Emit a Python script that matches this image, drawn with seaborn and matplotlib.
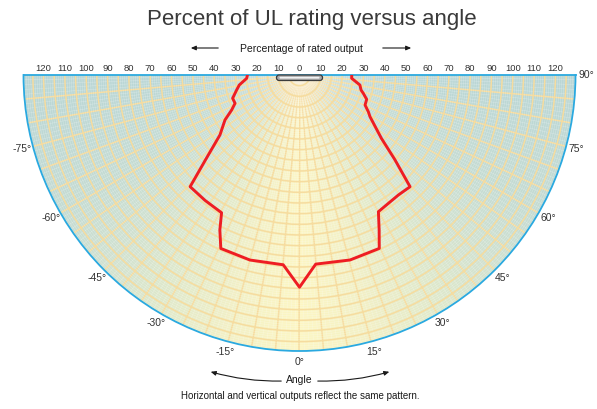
"""
Polar light distribution: percent of UL rating versus angle.
"""

import numpy as np
import matplotlib.pyplot as plt
import seaborn as sns
from matplotlib.colors import LinearSegmentedColormap
from matplotlib.patches import FancyBboxPatch, FancyArrowPatch
from matplotlib.transforms import IdentityTransform

# Data (angle in degrees, output in % of rating)
curve_deg = [-90, -86.4, -80.6, -76.6, -74.2, -70.8, -66.3, -62.7, -58.9, -53.0,
             -47.8, -44.4, -37.0, -29.5, -27.2, -24.4, -15.0, -4.9, 0.0,
             4.9, 15.3, 24.7, 27.2, 30.0, 34.7, 39.5, 44.7, 48.4, 52.3,
             59.4, 61.9, 65.4, 70.1, 74.0, 76.3, 80.6, 86.4, 90]
curve_pct = [24.4, 24.8, 28.6, 30.3, 31.4, 33.2, 33.0, 35.8, 40.8, 46.7,
             59.8, 73.3, 73.6, 74.2, 81.7, 89.3, 89.8, 89.3, 99.5,
             89.0, 89.9, 89.5, 81.7, 74.0, 73.2, 72.9, 73.7, 59.8, 48.5,
             38.4, 36.6, 33.8, 33.5, 31.1, 29.7, 28.7, 24.5, 24.5]

top_ticks = [10, 20, 30, 40, 50, 60, 70, 80, 90, 100, 110, 120]
angle_ticks = [-75, -60, -45, -30, -15, 0, 15, 30, 45, 60, 75, 90]

R_MAX = 129.4
TXT = '#333333'


def fig_xy(px, py):
    # pixel position (from top-left) -> display coords (from bottom-left)
    return px, 409 - py


def main():
    sns.set_theme(style='white')
    plt.rcParams['font.family'] = ['Liberation Sans', 'DejaVu Sans']

    fig = plt.figure(figsize=(5.97, 4.09), dpi=100)
    # square box: the half disc sits in its middle, centre at (299.5, 75) px
    cx, cy, rad_px = 299.5, 75, 276
    side = 2 * rad_px
    left = cx - rad_px
    top = cy - 0.25 * side
    ax = fig.add_axes([left / 597, (409 - (top + side)) / 409, side / 597, side / 409],
                      projection='polar')
    ax.set_theta_zero_location('S')
    ax.set_theta_direction(1)
    ax.set_thetamin(-90)
    ax.set_thetamax(90)

    # background gradient: yellow at 0 deg, blue-green toward +-90
    bg_cmap = LinearSegmentedColormap.from_list(
        'bg', [(0.0, '#fcf6c3'), (0.167, '#f2f0c5'), (0.333, '#e0e9ca'),
               (0.5, '#d0e1cf'), (0.667, '#c4dbd2'), (1.0, '#b9d6d5')])
    th_edges = np.deg2rad(np.linspace(-90, 90, 181))
    r_edges = np.array([0, R_MAX])
    shade = np.abs(np.linspace(-89.5, 89.5, 180))[None, :]
    ax.pcolormesh(th_edges, r_edges, shade, cmap=bg_cmap, vmin=0, vmax=90,
                  shading='flat', zorder=0)

    # grid
    ax.set_xticks(np.deg2rad(np.arange(-90, 91, 5)))
    ax.set_xticks(np.deg2rad(np.arange(-90, 91, 1)), minor=True)
    ax.set_xticklabels([])
    ax.set_yticks(np.arange(5, 130, 5))
    ax.set_yticks(np.arange(1, 130, 1), minor=True)
    ax.set_yticklabels([])
    ax.tick_params(length=0, which='both')
    ax.grid(True, which='major', color='#f6dc9f', lw=1.1)
    ax.grid(True, which='minor', color='#ffffff', lw=0.4, alpha=0.3)

    sns.lineplot(x=np.deg2rad(curve_deg), y=curve_pct, ax=ax, color='#ee1d23',
                 lw=2.1, sort=False, estimator=None, zorder=5)
    ax.set_rlim(0, R_MAX)
    ax.set_xlabel('')
    ax.set_ylabel('')

    for name in ['polar', 'start', 'end']:
        ax.spines[name].set_color('#2aa9e0')
        ax.spines[name].set_linewidth(1.3)
    ax.spines['inner'].set_visible(False)

    # top scale labels on both sides
    ax.annotate('0', xy=(0, 0), xytext=(0, 3), textcoords='offset points',
                ha='center', va='baseline', fontsize=6.8, color=TXT, annotation_clip=False)
    for v in top_ticks:
        for s in (-90, 90):
            ax.annotate(str(v), xy=(np.deg2rad(s), v), xytext=(0, 3),
                        textcoords='offset points', ha='center', va='baseline',
                        fontsize=6.8, color=TXT, annotation_clip=False)

    # angle labels round the rim
    for a in angle_ticks:
        ax.text(np.deg2rad(a), 134.5, f'{a}°', ha='center', va='center',
                fontsize=7.5, color=TXT)

    # lamp bar at the centre
    x0, y0 = ax.transData.transform((np.deg2rad(-90), 10.8))
    x1, _ = ax.transData.transform((np.deg2rad(90), 10.8))
    lamp = FancyBboxPatch((x0, y0 - 5.5), x1 - x0, 5.5,
                          boxstyle='round,pad=0,rounding_size=2.7',
                          facecolor='#a9a9a9', edgecolor='#3c3c3c', lw=0.9,
                          transform=IdentityTransform(), zorder=6)
    fig.add_artist(lamp)
    shine = FancyBboxPatch((x0 + 3, y0 - 3.6), x1 - x0 - 6, 1.8,
                           boxstyle='round,pad=0,rounding_size=0.9',
                           facecolor='#f2f2f2', edgecolor='none',
                           transform=IdentityTransform(), zorder=7)
    fig.add_artist(shine)

    # titles and notes
    fig.text(312 / 597, 1 - 25 / 409, 'Percent of UL rating versus angle',
             ha='center', va='baseline', fontsize=16, color='#3a3a3a')
    fig.text(301 / 597, 1 - 51.5 / 409, 'Percentage of rated output',
             ha='center', va='baseline', fontsize=7.5, color='#1a1a1a')
    fig.text(299 / 597, 1 - 383 / 409, 'Angle', ha='center', va='baseline',
             fontsize=7.5, color='#1a1a1a')
    fig.text(300 / 597, 1 - 399 / 409,
             'Horizontal and vertical outputs reflect the same pattern.',
             ha='center', va='baseline', fontsize=7, color='#1a1a1a')

    arrow_kw = dict(arrowstyle='-|>,head_length=3,head_width=1.3', color='#1a1a1a',
                    lw=0.8, transform=IdentityTransform(), mutation_scale=1)
    for a, b, rad in [((221, 48), (188, 48), 0), ((380, 48), (414, 48), 0),
                      ((284, 381), (208, 371), -0.08), ((315, 381), (392, 371), 0.08)]:
        fig.add_artist(FancyArrowPatch(fig_xy(*a), fig_xy(*b),
                                       connectionstyle=f'arc3,rad={rad}', **arrow_kw))

    plt.savefig('out.png', dpi=100)
    plt.close()


if __name__ == '__main__':
    main()
